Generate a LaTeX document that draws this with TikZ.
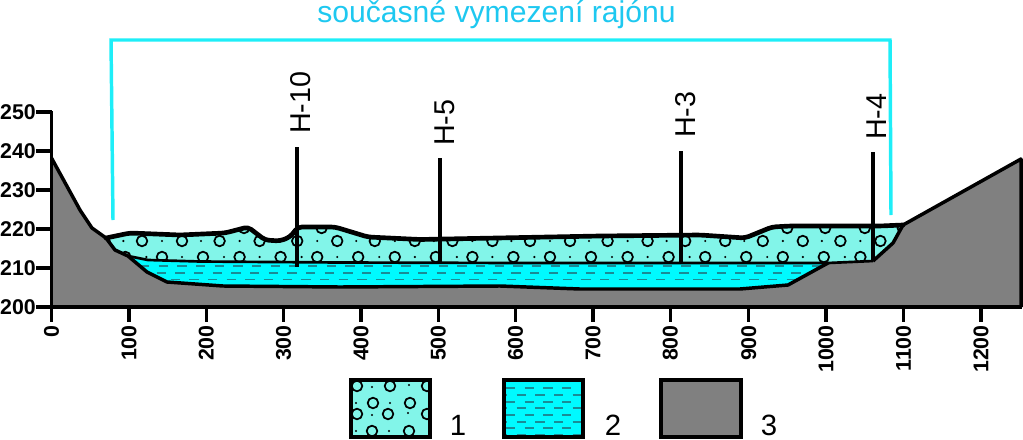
\documentclass[tikz,border=0pt]{standalone}
\usepackage{fontspec}
\setmainfont{Liberation Sans}
\definecolor{gravelcol}{RGB}{130,245,233}
\definecolor{watercol}{RGB}{0,250,255}
\definecolor{groundcol}{RGB}{128,128,128}
\definecolor{limitcol}{RGB}{30,238,248}
\definecolor{titlecol}{RGB}{30,200,240}
\definecolor{dashcol}{RGB}{25,140,150}
\tikzset{
  ticktext/.style={inner sep=0pt,font=\fontsize{16}{16}\selectfont\bfseries},
  welltext/.style={inner sep=0pt,rotate=90,anchor=west,font=\fontsize{21.5}{21.5}\selectfont},
  keytext/.style={inner sep=0pt,font=\fontsize{22}{22}\selectfont},
  pebble/.style={black,line width=1.3pt},
  waterdash/.style={dashcol,line width=0.8pt,dash pattern=on 7pt off 7pt},
  heavy/.style={line width=2.5pt},
}
\newcommand{\gravelshape}{(106,238) -- (130,233) -- (180,235) -- (225,233) -- (248,227) -- (265,240) -- (280,241) -- (290,237) -- (298,227) -- (335,227) -- (368,237) -- (420,239.5) -- (600,236) -- (700,235) -- (745,238) -- (772,227) -- (790,226) -- (880,226) -- (903,225) -- (893,243) -- (873,261) -- (828,263) -- (520,263) -- (340,262.5) -- (200,261.5) -- (148,260) -- (128,256) -- (115,250) -- cycle}
\newcommand{\watershape}{(128,256) -- (147,272) -- (167,282) -- (223,286) -- (340,287) -- (500,286) -- (580,289) -- (740,289) -- (788,285) -- (828,263) -- (520,263) -- (340,262.5) -- (200,261.5) -- (148,260) -- cycle}
\begin{document}
\begin{tikzpicture}[x=0.75pt,y=-0.75pt]
\useasboundingbox (0,0) rectangle (1023,439);
% layers
\fill[groundcol] (51.5,307) -- (51.5,158) -- (80,210) -- (92,228) -- (106,238) -- (115,250) -- (128,256) -- (147,272) -- (167,282) -- (903,225) -- (1021,159) -- (1021,307) -- cycle;
\fill[groundcol] (167,282) -- (223,286) -- (340,287) -- (500,286) -- (580,289) -- (740,289) -- (788,285) -- (828,263) -- (873,261) -- (893,243) -- (903,225) -- cycle;
\fill[watercol] \watershape;
\begin{scope}
\clip \watershape;
\draw[waterdash] (140,266) -- (830,266);
\draw[waterdash,dash phase=6pt] (146,273) -- (830,273);
\draw[waterdash] (152,279.5) -- (830,279.5);
\end{scope}
\fill[gravelcol] \gravelshape;
\begin{scope}
\clip \gravelshape;
\foreach \k in {-1,...,10} {
  \draw[pebble] ({142+77.6*\k},241) circle (5.3);
  \draw[pebble] ({182+77.6*\k},241) circle (5.3);
  \draw[pebble] ({162+77.6*\k},257) circle (5.3);
  \draw[pebble] ({203+77.6*\k},257) circle (5.3);
  \draw[pebble] ({244+77.6*\k},228) circle (5.3);
  \draw[pebble] ({282+77.6*\k},228) circle (5.3);
  \fill ({162+77.6*\k},241) circle (1.2);
  \fill ({201+77.6*\k},241) circle (1.2);
  \fill ({182+77.6*\k},257) circle (1.2);
  \fill ({224+77.6*\k},257) circle (1.2);
}
\end{scope}
% outlines
\draw[line width=3.5pt,line cap=round,rounded corners=3] (106,238) -- (130,233) -- (180,235) -- (225,233) -- (248,227) -- (265,240) -- (280,241) -- (290,237) -- (298,227) -- (335,227) -- (368,237) -- (420,239.5) -- (600,236) -- (700,235) -- (745,238) -- (772,227) -- (790,226) -- (880,226) -- (903,225);
\draw[line width=2pt,line join=round] (128,256) -- (148,260) -- (200,261.5) -- (340,262.5) -- (520,263) -- (828,263) -- (873,261);
\draw[line width=2.6pt,line join=round] (51.5,158) -- (80,210) -- (92,228) -- (106,238) -- (115,250) -- (128,256) -- (147,272) -- (167,282) -- (223,286) -- (340,287) -- (500,286) -- (580,289) -- (740,289) -- (788,285) -- (828,263);
\draw[line width=2.6pt,line join=round] (873,261) -- (893,243) -- (903,225) -- (1021,159) -- (1021,307);
% axes
\draw[heavy] (51.5,111) -- (51.5,307) -- (1022,307);
\foreach \v/\yy in {200/307,210/268,220/229,230/190,240/151,250/112} {
  \draw[heavy] (36,\yy) -- (51.5,\yy);
  \node[ticktext,anchor=east] (y\v) at (36,\yy) {\v};
}
\foreach \v/\xx in {0/51.5,100/129,200/206.3,300/283.6,400/361,500/438.3,600/515.6,700/593,800/670.3,900/748.7,1000/826,1100/903.5,1200/981} {
  \draw[heavy] (\xx,307) -- (\xx,322);
  \node[ticktext,rotate=90,anchor=east] (x\v) at (\xx,325) {\v};
}
% boreholes
\draw[heavy] (297,147) -- (297,267);
\draw[heavy] (440,158) -- (440,264);
\draw[heavy] (681,151) -- (681,264);
\draw[heavy] (873,152) -- (873,261);
\node[welltext] (h10) at (301,134) {H-10};
\node[welltext] (h5) at (445,146) {H-5};
\node[welltext] (h3) at (686,138) {H-3};
\node[welltext] (h4) at (877,140) {H-4};
% extent of the area
\draw[limitcol,line width=2.6pt] (113,220) -- (111,40) -- (890,40) -- (891,215);
\node[inner sep=0pt,anchor=base,text=titlecol,font=\fontsize{22.6}{22.6}\selectfont] (title) at (496.5,22) {současné vymezení rajónu};
% key
\fill[gravelcol] (351,380) rectangle (430,437);
\begin{scope}
\clip (351,380) rectangle (430,437);
\foreach \cx/\cy in {357/386,390/386,427/386,373/403,410/403,357/414,388/414,427/414,372/431,409/431} {
  \draw[pebble] (\cx,\cy) circle (5.3);
}
\foreach \cx/\cy in {372/387,409/385,356/403,390/403,372/415,408/413,356/431,389/431} {
  \fill (\cx,\cy) circle (1.2);
}
\end{scope}
\draw[heavy] (351,380) rectangle (430,437);
\fill[watercol] (504,380) rectangle (583,437);
\begin{scope}
\clip (504,380) rectangle (583,437);
\foreach \cy/\ph in {388/0,395/6,402/0,408/6,415/0,422/6,428/0,435/6} {
  \draw[waterdash,dash phase=\ph pt] (506,\cy) -- (583,\cy);
}
\end{scope}
\draw[heavy] (504,380) rectangle (583,437);
\draw[fill=groundcol,heavy] (661,380) rectangle (741,437);
\node[keytext] (key1) at (458,425) {1};
\node[keytext] (key2) at (613,425) {2};
\node[keytext] (key3) at (769,425) {3};
\end{tikzpicture}
\end{document}
